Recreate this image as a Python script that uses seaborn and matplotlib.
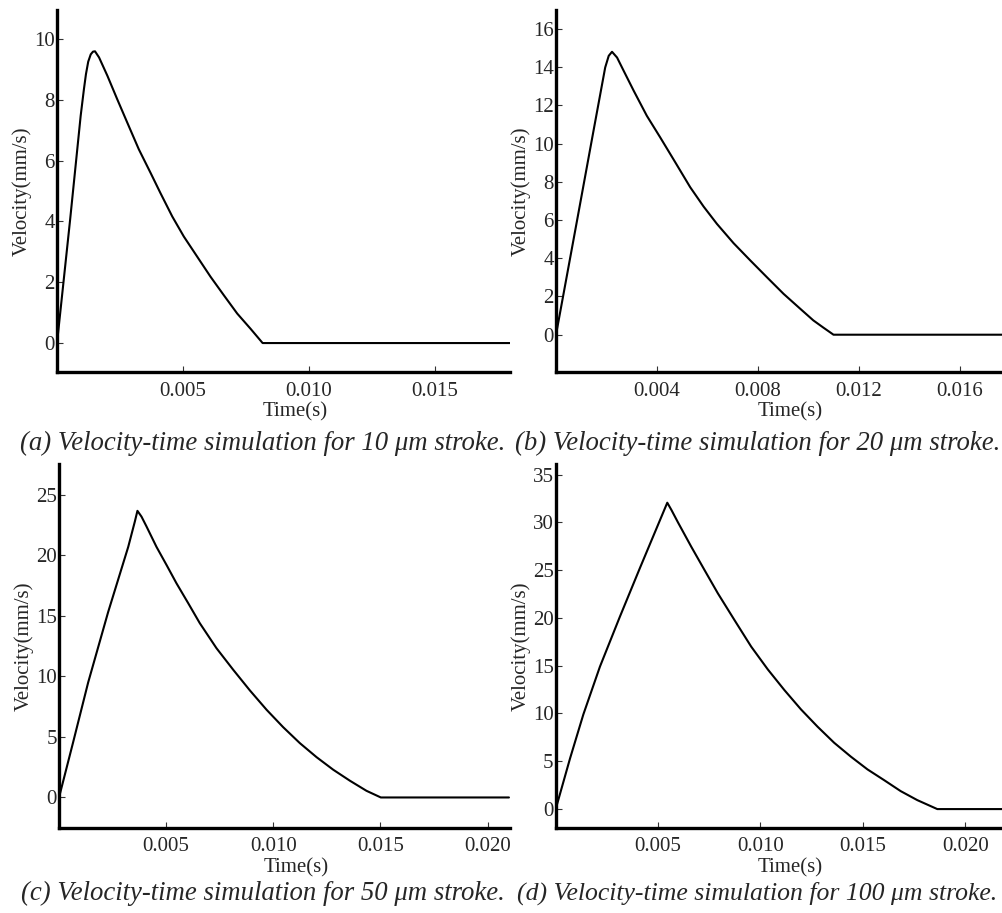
import matplotlib
matplotlib.use("Agg")
import matplotlib.pyplot as plt
import seaborn as sns
from matplotlib.ticker import MultipleLocator, FormatStrFormatter

# Velocity-time traces (time in s, velocity in mm/s)
time_10um = [0, 0.00052, 0.00094, 0.00107, 0.00115, 0.00124, 0.00134, 0.00143, 0.00151,
             0.00167, 0.002, 0.00239, 0.00279, 0.00325, 0.00372, 0.00411, 0.00458,
             0.00504, 0.00557, 0.0061, 0.00663, 0.00716, 0.00769, 0.00817, 0.018]
vel_10um = [0, 4.05, 7.47, 8.35, 8.84, 9.25, 9.49, 9.58, 9.59,
            9.39, 8.79, 8.02, 7.25, 6.37, 5.59, 4.93, 4.16,
            3.5, 2.84, 2.18, 1.57, 0.97, 0.47, 0, 0]

time_20um = [0, 0.00083, 0.00149, 0.00195, 0.00209, 0.00222, 0.00242, 0.00268,
             0.00308, 0.0036, 0.00413, 0.00473, 0.00532, 0.00585, 0.00638, 0.00704,
             0.0077, 0.00836, 0.00902, 0.00968, 0.0102, 0.0106, 0.011, 0.01768]
vel_20um = [0, 5.95, 10.7, 13.99, 14.6, 14.81, 14.51, 13.82,
            12.77, 11.46, 10.33, 9.02, 7.72, 6.71, 5.8, 4.79,
            3.89, 3.01, 2.14, 1.36, 0.75, 0.37, 0, 0]

time_50um = [0, 0.00065, 0.00136, 0.00229, 0.00323, 0.00354, 0.00366, 0.00385, 0.00408,
             0.00455, 0.00502, 0.00548, 0.00603, 0.00657, 0.00735, 0.00813, 0.00891,
             0.00969, 0.01046, 0.01124, 0.01202, 0.0128, 0.01358, 0.01435, 0.01502, 0.021]
vel_50um = [0, 4.5, 9.5, 15.3, 20.7, 22.8, 23.68, 23.2, 22.4,
            20.7, 19.2, 17.7, 16.05, 14.4, 12.33, 10.55, 8.84,
            7.24, 5.81, 4.49, 3.33, 2.29, 1.38, 0.55, 0, 0]

time_100um = [0, 0.0007, 0.00135, 0.00216, 0.00313, 0.00411, 0.00545,
              0.00565, 0.00597, 0.00662, 0.00727, 0.00792, 0.00873, 0.00955, 0.01036,
              0.01117, 0.01198, 0.01279, 0.0136, 0.01442, 0.01523, 0.01604, 0.01685,
              0.01766, 0.01864, 0.0218]
vel_100um = [0, 5.3, 9.9, 14.9, 20.1, 25.2, 32.05,
             31.3, 30.0, 27.45, 25.0, 22.57, 19.78, 16.99, 14.61,
             12.45, 10.43, 8.62, 6.94, 5.48, 4.15, 3.03, 1.88,
             0.94, 0, 0]

xticks_10um = [0.005, 0.010, 0.015]
xticks_20um = [0.004, 0.008, 0.012, 0.016]
xticks_50um = [0.005, 0.010, 0.015, 0.020]
xticks_100um = [0.005, 0.010, 0.015, 0.020]

captions = [
    "(a) Velocity-time simulation for 10 \u03bcm stroke.",
    "(b) Velocity-time simulation for 20 \u03bcm stroke.",
    "(c) Velocity-time simulation for 50 \u03bcm stroke.",
    "(d) Velocity-time simulation for 100 \u03bcm stroke.",
]

sns.set_theme(style="ticks")
plt.rcParams["font.family"] = ["Liberation Serif", "DejaVu Serif"]
plt.rcParams["xtick.direction"] = "in"
plt.rcParams["ytick.direction"] = "in"

fig = plt.figure(figsize=(10.02, 9.13), dpi=100)

panels = [
    # rect, x, y, xlim, ylim, ystep, xticks
    ([0.0569, 0.5926, 0.4521, 0.3965], time_10um, vel_10um, (0, 0.018), (-0.95, 10.95), 2, xticks_10um),
    ([0.5549, 0.5926, 0.4451, 0.3965], time_20um, vel_20um, (0, 0.01768), (-1.95, 17.0), 2, xticks_20um),
    ([0.0589, 0.0934, 0.4501, 0.3984], time_50um, vel_50um, (0, 0.02105), (-2.5, 27.55), 5, xticks_50um),
    ([0.5546, 0.0934, 0.4454, 0.3984], time_100um, vel_100um, (0, 0.0218), (-1.95, 36.1), 5, xticks_100um),
]

for rect, t, v, xlim, ylim, ystep, xt in panels:
    ax = fig.add_axes(rect)
    sns.lineplot(x=t, y=v, ax=ax, color="black", linewidth=1.5)
    ax.set_xlim(*xlim)
    ax.set_ylim(*ylim)
    ax.set_xticks(xt)
    ax.xaxis.set_major_formatter(FormatStrFormatter("%.3f"))
    ax.yaxis.set_major_locator(MultipleLocator(ystep))
    for side in ["top", "right"]:
        ax.spines[side].set_visible(False)
    for side in ["left", "bottom"]:
        ax.spines[side].set_linewidth(2.4)
        ax.spines[side].set_color("black")
    ax.tick_params(axis="both", labelsize=15, length=4.5, width=0.8, color="#333333")
    ax.tick_params(axis="x", pad=7)
    ax.tick_params(axis="y", pad=1.5)
    ax.set_xlabel("Time(s)", fontsize=15)
    ax.set_ylabel("Velocity(mm/s)", fontsize=15)
    ax.xaxis.set_label_coords(0.525, -0.085)
    ax.yaxis.set_label_coords(-0.056, 0.5)

fig.text(0.262, 0.5148, captions[0], fontsize=19.3, style="italic", ha="center", va="center")
fig.text(0.756, 0.5148, captions[1], fontsize=19.3, style="italic", ha="center", va="center")
fig.text(0.262, 0.0219, captions[2], fontsize=19.3, style="italic", ha="center", va="center")
fig.text(0.756, 0.0219, captions[3], fontsize=18.5, style="italic", ha="center", va="center")

fig.savefig("out.png", dpi=100)
plt.close(fig)
